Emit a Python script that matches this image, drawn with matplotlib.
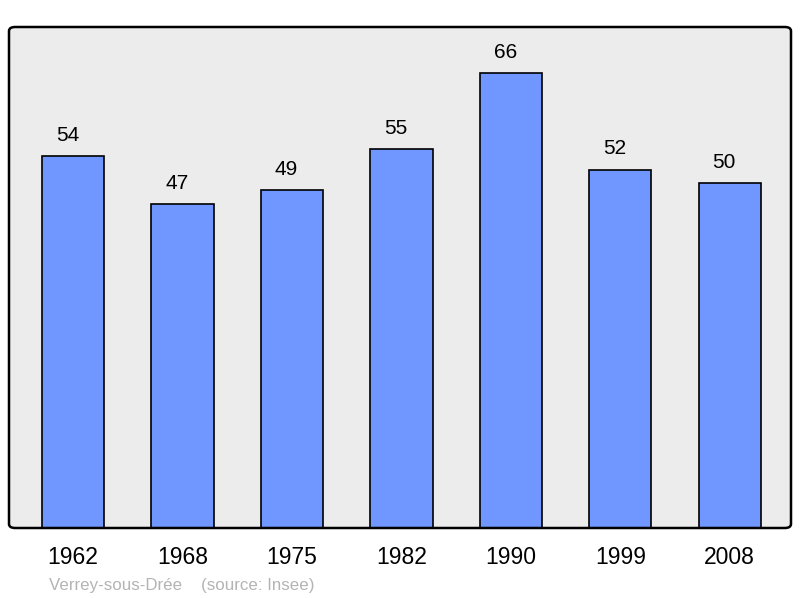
import matplotlib.pyplot as plt
from matplotlib.patches import FancyBboxPatch

plt.rcParams['font.family'] = ['Liberation Sans', 'DejaVu Sans']

# Données
annees = ['1962', '1968', '1975', '1982', '1990', '1999', '2008']
population = [54, 47, 49, 55, 66, 52, 50]

fig = plt.figure(figsize=(8, 5.98), dpi=100)
ax = fig.add_axes([9 / 800, 70 / 598, 782 / 800, 501 / 598])
ax.set_facecolor('none')

# Fond gris arrondi
fond = FancyBboxPatch((0, 0), 1, 1,
                      boxstyle='round,pad=0,rounding_size=0.008',
                      transform=ax.transAxes, facecolor='#ececec',
                      edgecolor='none', zorder=0, clip_on=False)
ax.add_patch(fond)
cadre = FancyBboxPatch((0, 0), 1, 1,
                       boxstyle='round,pad=0,rounding_size=0.008',
                       transform=ax.transAxes, facecolor='none',
                       edgecolor='black', linewidth=1.8, zorder=3, clip_on=False)
ax.add_patch(cadre)

x = range(len(annees))
barres = ax.bar(x, population, width=0.57, color='#7096ff',
                edgecolor='black', linewidth=1.2, zorder=2)

for xi, v in zip(x, population):
    ax.annotate(str(v), (xi, v), xytext=(-4, 11), textcoords='offset points',
                ha='center', va='baseline', fontsize=15)

ax.set_xlim(-0.585, 6.56)
ax.set_ylim(0, 72.7)
ax.set_xticks(list(x))
ax.set_xticklabels(annees, fontsize=16.5)
ax.tick_params(axis='x', length=0, pad=13)
ax.set_yticks([])
for s in ax.spines.values():
    s.set_visible(False)

fig.text(49 / 800, 1 - 590 / 598, 'Verrey-sous-Drée    (source: Insee)',
         fontsize=12.2, color='#b4b4b4', va='baseline')

fig.savefig('out.png', dpi=100)
